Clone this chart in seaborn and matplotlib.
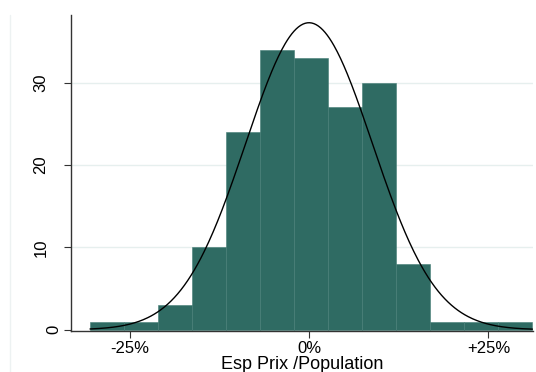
import numpy as np
import pandas as pd
import matplotlib
matplotlib.use("Agg")
import matplotlib.pyplot as plt
import matplotlib.transforms as mtransforms
import seaborn as sns

# Histogram of price gaps relative to population (share, -1..1)
bin_start = -0.305
bin_width = 0.0474
counts = [1, 1, 3, 10, 24, 34, 33, 27, 30, 8, 1, 1, 1]

# Fitted normal density
curve_mean = 0.0
curve_sd = 0.0883

y_ticks = [0, 10, 20, 30]
x_ticks = [-0.25, 0.0, 0.25]
x_tick_labels = ["-25%", "0%", "+25%"]
x_label = "Esp Prix /Population"

bar_color = "#2f6b63"
edge_color = "#457d75"
grid_color = "#e6efee"

sns.set_style("white")
plt.rcParams["font.family"] = ["Liberation Sans", "DejaVu Sans"]
plt.rcParams["text.color"] = "black"
plt.rcParams["xtick.color"] = "black"
plt.rcParams["ytick.color"] = "black"

n_bins = len(counts)
edges = bin_start + bin_width * np.arange(n_bins + 1)
centers = (edges[:-1] + edges[1:]) / 2
hist_df = pd.DataFrame({"x": centers, "n": counts})

fig = plt.figure(figsize=(5.36, 3.72), dpi=100)
ax = fig.add_axes([71 / 536, 41 / 372, 462 / 536, 316 / 372])

for t in y_ticks[1:]:
    ax.axhline(t, color=grid_color, lw=1.0, zorder=0)

sns.histplot(data=hist_df, x="x", weights="n", bins=[float(e) for e in edges], ax=ax,
             color=bar_color, edgecolor=edge_color, linewidth=0.4,
             alpha=1.0, zorder=2)

total = float(np.sum(counts))
xs = np.linspace(edges[0], edges[-1], 400)
dens = total * bin_width / (curve_sd * np.sqrt(2 * np.pi)) * np.exp(-0.5 * ((xs - curve_mean) / curve_sd) ** 2)
sns.lineplot(x=xs, y=dens, ax=ax, color="black", lw=1.0, zorder=3)

ax.set_xlim(-0.3315, 0.312)
ax.set_ylim(-0.15, 38.2)
ax.set_xticks(x_ticks)
ax.set_xticklabels(x_tick_labels, fontsize=12, color="black")
ax.set_yticks(y_ticks)
ax.set_yticklabels([""] * len(y_ticks))
ax.set_xlabel(x_label, fontsize=13, labelpad=0, color="black")
ax.set_ylabel("")

# vertical y labels; single-digit labels sit closer to the axis
ylab_trans = mtransforms.blended_transform_factory(fig.transFigure, ax.transData)
for value in y_ticks:
    s = str(value)
    x_px = 53.5 if len(s) == 1 else 41
    ax.text(x_px / 536, value, s, transform=ylab_trans, rotation=90,
            ha="center", va="center", fontsize=12, color="black")

for side in ["top", "right"]:
    ax.spines[side].set_visible(False)
for side in ["left", "bottom"]:
    ax.spines[side].set_color("#333333")
    ax.spines[side].set_linewidth(1.0)
ax.tick_params(axis="both", bottom=True, left=True, direction="out", length=5,
               width=0.8, color="#333333")
ax.tick_params(axis="x", pad=2)

# faint outer frame line on the left
fig.add_artist(plt.Line2D([10 / 536, 10 / 536], [0, 357 / 372], color="#edf2f2", lw=1.0))

fig.savefig("out.png", dpi=100, facecolor="white")
